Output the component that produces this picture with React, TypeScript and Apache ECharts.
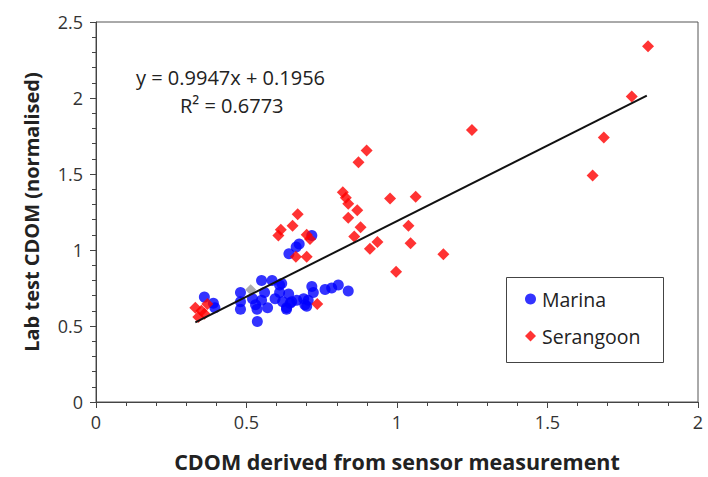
import React, { useEffect, useRef } from "react";
import * as echarts from "echarts";

const xTicks = [0, 0.5, 1, 1.5, 2];
const yTicks = [0, 0.5, 1, 1.5, 2, 2.5];

const marina: [number, number][] = [
  [0.36, 0.69], [0.39, 0.65], [0.395, 0.62],
  [0.48, 0.72], [0.48, 0.66], [0.48, 0.61],
  [0.52, 0.68], [0.53, 0.64], [0.535, 0.61], [0.536, 0.53],
  [0.55, 0.80], [0.55, 0.67], [0.56, 0.72], [0.57, 0.62],
  [0.585, 0.80], [0.595, 0.68], [0.61, 0.77], [0.61, 0.72], [0.62, 0.66], [0.617, 0.78],
  [0.633, 0.62], [0.633, 0.61], [0.64, 0.71], [0.645, 0.65], [0.65, 0.66], [0.667, 0.67],
  [0.69, 0.68], [0.694, 0.64], [0.705, 0.67], [0.70, 0.63], [0.717, 0.76], [0.722, 0.72],
  [0.761, 0.74], [0.783, 0.75], [0.805, 0.77], [0.838, 0.73],
  [0.641, 0.976], [0.665, 1.02], [0.675, 1.04], [0.717, 1.095],
];

const serangoon: [number, number][] = [
  [0.33, 0.62], [0.35, 0.60], [0.34, 0.56], [0.36, 0.58], [0.37, 0.645],
  [0.735, 0.645],
  [0.606, 1.095], [0.614, 1.134], [0.653, 1.16], [0.67, 1.236], [0.70, 1.10], [0.711, 1.073],
  [0.664, 0.955], [0.70, 0.955],
  [0.82, 1.38], [0.83, 1.344], [0.838, 1.305], [0.868, 1.262], [0.838, 1.212], [0.879, 1.149],
  [0.858, 1.089], [0.935, 1.052], [0.91, 1.008], [0.872, 1.578], [0.899, 1.654],
  [0.977, 1.338], [1.062, 1.351], [1.038, 1.16], [1.045, 1.045], [1.154, 0.972], [0.997, 0.857],
  [1.249, 1.79], [1.65, 1.49], [1.687, 1.74], [1.78, 2.01], [1.834, 2.34],
];

const other: [number, number][] = [[0.514, 0.738]];

const trendLine: [number, number][] = [[0.33, 0.524], [1.83, 2.016]];

const equationText = "y = 0.9947x + 0.1956";
const r2Text = "R² = 0.6773";

export default function App() {
  const ref = useRef<HTMLDivElement>(null);
  useEffect(() => {
    if (!ref.current) return;
    const chart = echarts.init(ref.current, null, { renderer: "svg" });
    const font = "'Open Sans', sans-serif";
    chart.setOption({
      animation: false,
      backgroundColor: "#ffffff",
      textStyle: { fontFamily: font },
      grid: {
        left: 96, right: 10, top: 22, bottom: 70,
        show: true, borderColor: "#555", borderWidth: 1, backgroundColor: "transparent",
      },
      xAxis: {
        type: "value", min: xTicks[0], max: xTicks[xTicks.length - 1], interval: 0.5,
        name: "CDOM derived from sensor measurement",
        nameLocation: "middle", nameGap: 48,
        nameTextStyle: { fontSize: 21.5, fontWeight: "bold", color: "#222", fontFamily: font },
        axisLine: { lineStyle: { color: "#444", width: 1 } },
        axisTick: { show: true, length: 6, lineStyle: { color: "#444" } },
        minorTick: { show: true, splitNumber: 5, length: 4, lineStyle: { color: "#444" } },
        splitLine: { show: false },
        axisLabel: { fontSize: 18, color: "#333", margin: 11, fontFamily: font },
      },
      yAxis: {
        type: "value", min: yTicks[0], max: yTicks[yTicks.length - 1], interval: 0.5,
        name: "Lab test CDOM (normalised)",
        nameLocation: "middle", nameGap: 55,
        nameTextStyle: { fontSize: 20, fontWeight: "bold", color: "#222", fontFamily: font },
        axisLine: { show: true, lineStyle: { color: "#444", width: 1 } },
        axisTick: { show: true, length: 6, lineStyle: { color: "#444" } },
        minorTick: { show: true, splitNumber: 5, length: 4, lineStyle: { color: "#444" } },
        splitLine: { show: false },
        axisLabel: { fontSize: 18, color: "#333", margin: 13, fontFamily: font },
      },
      legend: {
        orient: "vertical",
        left: 520, top: 284,
        itemGap: 17, itemWidth: 11, itemHeight: 11,
        textStyle: { fontSize: 19.5, color: "#222", fontFamily: font, padding: [0, 0, 0, 1] },
        data: [
          { name: "Marina", icon: "circle" },
          { name: "Serangoon", icon: "diamond" },
        ],
      },
      graphic: [
        {
          type: "rect", left: 506, top: 277, z: -1,
          shape: { width: 157, height: 85 },
          style: { fill: "#fff", stroke: "#444", lineWidth: 1 },
        },
        {
          type: "text", left: 136, top: 67,
          style: { text: equationText, fontSize: 20, fill: "#222", fontFamily: font },
        },
        {
          type: "text", left: 180, top: 95,
          style: { text: r2Text, fontSize: 20, fill: "#222", fontFamily: font },
        },
      ],
      series: [
        {
          name: "Marina", type: "scatter", symbol: "circle", symbolSize: 11,
          itemStyle: { color: "#0000ff" }, data: marina, z: 2,
        },
        {
          name: "Other", type: "scatter", symbol: "diamond", symbolSize: 11,
          itemStyle: { color: "#999999" }, data: other, z: 2,
        },
        {
          name: "Serangoon", type: "scatter", symbol: "diamond", symbolSize: 12,
          itemStyle: { color: "#ff0000" }, data: serangoon, z: 3,
        },
        {
          name: "Trend", type: "line", data: trendLine, symbol: "none",
          lineStyle: { color: "#111", width: 2 }, z: 4, silent: true,
        },
      ],
    });
    return () => chart.dispose();
  }, []);
  return <div ref={ref} style={{ width: 708, height: 477, position: "absolute", left: 0, top: 0 }} />;
}
